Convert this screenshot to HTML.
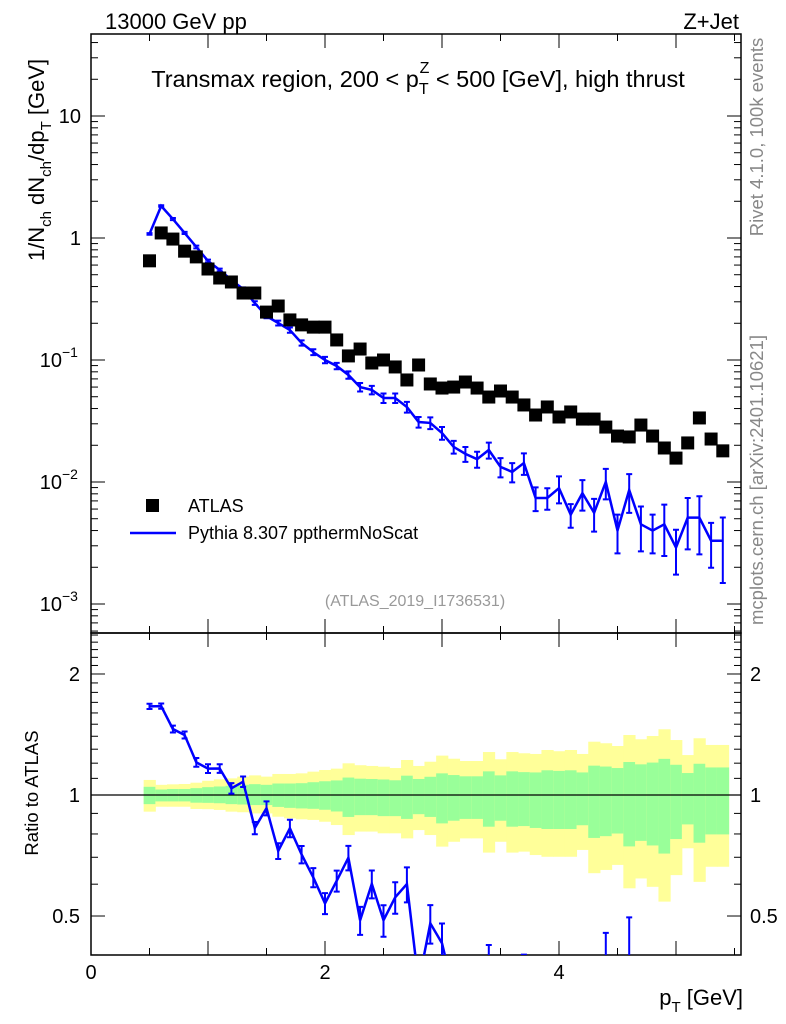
<!DOCTYPE html>
<html><head><meta charset="utf-8"><style>
html,body{margin:0;padding:0;background:#fff;overflow:hidden;width:786px;height:1024px;}
svg{display:block;font-family:"Liberation Sans",Arial,sans-serif;}
</style></head><body>
<svg id="chart" width="786" height="1024" viewBox="0 0 786 1024" xmlns="http://www.w3.org/2000/svg">
<defs>
<clipPath id="cm"><rect x="91" y="34" width="650" height="599"/></clipPath>
<clipPath id="cr"><rect x="91" y="633" width="650" height="322"/></clipPath>
</defs>
<g id="bands" clip-path="url(#cr)"></g>
<g id="marks"></g>
<text x="105" y="29" font-size="22">13000 GeV pp</text>
<text x="739" y="29" font-size="22" text-anchor="end">Z+Jet</text>
<text x="418" y="87" font-size="23.5" text-anchor="middle">Transmax region, 200 &lt; p<tspan font-size="16" dy="7">T</tspan><tspan font-size="16" dx="-9" dy="-21">Z</tspan><tspan dy="14"> &lt; 500 [GeV], high thrust</tspan></text>
<text transform="translate(44,160) rotate(-90)" font-size="22" text-anchor="middle">1/N<tspan font-size="15" dy="7">ch</tspan><tspan dy="-7"> dN</tspan><tspan font-size="15" dy="7">ch</tspan><tspan dy="-7">/dp</tspan><tspan font-size="15" dy="7">T</tspan><tspan dy="-7"> [GeV]</tspan></text>
<text transform="translate(38,793) rotate(-90)" font-size="18.5" text-anchor="middle">Ratio to ATLAS</text>
<text x="743" y="1005" font-size="22" text-anchor="end">p<tspan font-size="15" dy="7">T</tspan><tspan dy="-7"> [GeV]</tspan></text>
<text transform="translate(763,137) rotate(-90)" font-size="18.5" fill="#888" text-anchor="middle">Rivet 4.1.0, 100k events</text>
<text transform="translate(763,480) rotate(-90)" font-size="18.5" fill="#888" text-anchor="middle">mcplots.cern.ch [arXiv:2401.10621]</text>
<text x="415" y="606" font-size="16" fill="#999" text-anchor="middle">(ATLAS_2019_I1736531)</text>
<g>
<rect x="146" y="499" width="13" height="13" fill="#000"/>
<text x="188" y="512" font-size="18">ATLAS</text>
<line x1="130" y1="533" x2="176" y2="533" stroke="#0000ff" stroke-width="2.5"/>
<text x="188" y="539" font-size="18">Pythia 8.307 ppthermNoScat</text>
</g>
</svg>
<script>
const xVals=[0.5,0.6,0.7,0.8,0.9,1.0,1.1,1.2,1.3,1.4,1.5,1.6,1.7,1.8,1.9,2.0,2.1,2.2,2.3,2.4,2.5,2.6,2.7,2.8,2.9,3.0,3.1,3.2,3.3,3.4,3.5,3.6,3.7,3.8,3.9,4.0,4.1,4.2,4.3,4.4,4.5,4.6,4.7,4.8,4.9,5.0,5.1,5.2,5.3,5.4];
const atlasVals=[0.65,1.10,0.98,0.78,0.70,0.557,0.47,0.436,0.354,0.354,0.247,0.277,0.213,0.194,0.186,0.186,0.146,0.108,0.123,0.0945,0.100,0.0877,0.0686,0.091,0.0636,0.0589,0.060,0.066,0.0589,0.0497,0.0557,0.0497,0.0428,0.0354,0.0412,0.0341,0.0375,0.0328,0.0328,0.0282,0.0238,0.0234,0.0293,0.0238,0.0190,0.0157,0.0209,0.0335,0.0225,0.0180];
const pythiaVals=[1.08,1.83,1.43,1.10,0.844,0.648,0.547,0.453,0.382,0.293,0.229,0.201,0.176,0.138,0.116,0.100,0.0893,0.0754,0.060,0.0568,0.0488,0.0488,0.0412,0.0310,0.0305,0.0252,0.0194,0.0170,0.0154,0.0183,0.0133,0.0121,0.0143,0.0074,0.0074,0.0089,0.0054,0.0081,0.0056,0.0100,0.0040,0.0086,0.0045,0.0040,0.0045,0.0029,0.0051,0.0051,0.0033,0.0033];
const pythiaErr=[0.015,0.015,0.02,0.02,0.025,0.025,0.025,0.03,0.03,0.035,0.04,0.045,0.05,0.05,0.055,0.06,0.06,0.07,0.08,0.08,0.09,0.09,0.1,0.1,0.11,0.12,0.12,0.14,0.15,0.15,0.18,0.18,0.2,0.22,0.2,0.25,0.22,0.28,0.3,0.28,0.35,0.35,0.4,0.35,0.45,0.4,0.45,0.5,0.4,0.55];
const yellowUp=[1.09,1.06,1.063,1.065,1.073,1.085,1.094,1.10,1.111,1.119,1.111,1.128,1.128,1.132,1.143,1.154,1.163,1.199,1.186,1.181,1.176,1.167,1.222,1.181,1.21,1.253,1.231,1.215,1.215,1.279,1.227,1.279,1.27,1.265,1.294,1.285,1.294,1.265,1.357,1.345,1.324,1.41,1.376,1.402,1.457,1.37,1.257,1.384,1.332,1.332];
const greenUp=[1.048,1.032,1.035,1.035,1.04,1.046,1.05,1.054,1.06,1.064,1.06,1.068,1.068,1.07,1.076,1.082,1.087,1.105,1.098,1.096,1.093,1.088,1.117,1.096,1.11,1.132,1.121,1.113,1.113,1.145,1.119,1.145,1.14,1.138,1.152,1.148,1.152,1.138,1.183,1.177,1.167,1.208,1.192,1.204,1.23,1.189,1.134,1.196,1.171,1.171];
const yellowDn=[0.909,0.935,0.935,0.935,0.923,0.922,0.918,0.909,0.906,0.9,0.9,0.883,0.875,0.87,0.867,0.858,0.842,0.795,0.811,0.811,0.803,0.803,0.78,0.818,0.795,0.744,0.765,0.78,0.78,0.719,0.765,0.719,0.723,0.709,0.702,0.702,0.702,0.73,0.639,0.651,0.67,0.586,0.62,0.591,0.543,0.632,0.737,0.608,0.663,0.663];
const greenDn=[0.949,0.964,0.964,0.964,0.957,0.956,0.954,0.949,0.947,0.944,0.944,0.934,0.929,0.926,0.924,0.919,0.91,0.882,0.891,0.891,0.886,0.886,0.872,0.896,0.882,0.85,0.863,0.872,0.872,0.834,0.863,0.834,0.837,0.828,0.823,0.823,0.823,0.841,0.782,0.79,0.802,0.745,0.769,0.749,0.715,0.777,0.845,0.761,0.798,0.798];
const xTicks=[0,2,4];
const mainTickLabels=["10","10","10","1","10"];
const mainTickExps=["\u22123","\u22122","\u22121","",""];
const mainTickVals=[0.001,0.01,0.1,1,10];
const ratioTickVals=[0.5,1,2];
const ratioTickLabels=["0.5","1","2"];

const NS="http://www.w3.org/2000/svg";
const marks=document.getElementById('marks');
const bandsG=document.getElementById('bands');
const L=91,R=741,T=34,MB=633,RB=955;
const X=v=>L+v*117.0;
const YM=v=>482-(Math.log10(v)+2)*122;
const YR=v=>795-Math.log10(v)*402;
const BW=0.1;
function el(tag,attrs,parent){const e=document.createElementNS(NS,tag);for(const k in attrs)e.setAttribute(k,attrs[k]);(parent||marks).appendChild(e);return e;}

for(let i=0;i<xVals.length;i++){
  const x0=X(xVals[i]-BW/2),x1=X(xVals[i]+BW/2);
  const y=el('rect',{x:x0,y:YR(yellowUp[i]),width:x1-x0+0.5,height:YR(yellowDn[i])-YR(yellowUp[i]),fill:'#ffff99'},bandsG);
  
  
  const g=el('rect',{x:x0,y:YR(greenUp[i]),width:x1-x0+0.5,height:YR(greenDn[i])-YR(greenUp[i]),fill:'#99ff99'},bandsG);
  
  
}
const one=el('line',{x1:L,x2:R,y1:YR(1),y2:YR(1),stroke:'#000','stroke-width':1.2});



const f1=el('rect',{x:L,y:T,width:R-L,height:MB-T,fill:'none',stroke:'#000','stroke-width':1.5});


const f2=el('rect',{x:L,y:MB,width:R-L,height:RB-MB,fill:'none',stroke:'#000','stroke-width':1.5});



for(let k=0;k<=11;k++){
  const v=k*0.5;if(X(v)>R)continue;
  const len=(k%2===0)?14:7;
  for(const [t,b] of [[T,MB],[MB,RB]]){
    el('line',{x1:X(v),x2:X(v),y1:b,y2:b-len,stroke:'#000','stroke-width':1});
    el('line',{x1:X(v),x2:X(v),y1:t,y2:t+len,stroke:'#000','stroke-width':1});
  }
}
xTicks.forEach(v=>{const t=el('text',{x:X(v),y:979,'font-size':20,'text-anchor':'middle'});t.textContent=v;
  
  });

for(let d=-4;d<=1;d++){for(let m=1;m<=9;m++){const v=m*Math.pow(10,d);const y=YM(v);if(y<T||y>MB)continue;
  const len=m===1?14:7;
  el('line',{x1:L,x2:L+len,y1:y,y2:y,stroke:'#000','stroke-width':1});
  el('line',{x1:R,x2:R-len,y1:y,y2:y,stroke:'#000','stroke-width':1});}}
mainTickVals.forEach((v,i)=>{
  const t=el('text',{x:mainTickExps[i]?62:81,y:YM(v)+7,'font-size':20,'text-anchor':'end'});t.textContent=mainTickLabels[i];
  
  
  if(mainTickExps[i]){const s=el('text',{x:62,y:YM(v)-3,'font-size':14});s.textContent=mainTickExps[i];
    
    }
});
[0.4,0.5,0.6,0.7,0.8,0.9,1,1.1,1.2,1.3,1.4,1.5,1.6,1.7,1.8,1.9,2,2.1,2.2,2.3,2.4,2.5].forEach(v=>{const y=YR(v);if(y<MB||y>RB)return;
  const len=(v===0.5||v===1||v===2)?14:7;
  el('line',{x1:L,x2:L+len,y1:y,y2:y,stroke:'#000','stroke-width':1});
  el('line',{x1:R,x2:R-len,y1:y,y2:y,stroke:'#000','stroke-width':1});});
ratioTickVals.forEach((v,i)=>{
  const t=el('text',{x:80,y:YR(v)+7,'font-size':20,'text-anchor':'end'});t.textContent=ratioTickLabels[i];
  
  
  const t2=el('text',{x:750,y:YR(v)+7,'font-size':20});t2.textContent=ratioTickLabels[i];
  
  });

const gm=el('g',{'clip-path':'url(#cm)'});


let pts=xVals.map((x,i)=>X(x)+','+YM(pythiaVals[i])).join(' ');
const pl=el('polyline',{points:pts,fill:'none',stroke:'#0000ff','stroke-width':2.5},gm);


xVals.forEach((x,i)=>{const v=pythiaVals[i],e=pythiaErr[i];const cx=X(x);
  const y1=YM(v*(1+e)),y2=YM(v*(1-e));
  const b=el('path',{d:`M${cx},${y1}V${y2}M${cx-3},${y1}H${cx+3}M${cx-3},${y2}H${cx+3}`,stroke:'#0000ff','stroke-width':2,fill:'none'},gm);
  
  });
xVals.forEach((x,i)=>{const r=el('rect',{x:X(x)-6.5,y:YM(atlasVals[i])-6.5,width:13,height:13,fill:'#000'},gm);
  
  });

const gr=el('g',{'clip-path':'url(#cr)'});


pts=xVals.map((x,i)=>X(x)+','+YR(pythiaVals[i]/atlasVals[i])).join(' ');
const rl=el('polyline',{points:pts,fill:'none',stroke:'#0000ff','stroke-width':2.5},gr);


xVals.forEach((x,i)=>{const v=pythiaVals[i]/atlasVals[i],e=pythiaErr[i];const cx=X(x);
  const y1=YR(v*(1+e)),y2=YR(v*(1-e));
  const b=el('path',{d:`M${cx},${y1}V${y2}M${cx-3},${y1}H${cx+3}M${cx-3},${y2}H${cx+3}`,stroke:'#0000ff','stroke-width':2,fill:'none'},gr);
  
  });
</script>
</body></html>
